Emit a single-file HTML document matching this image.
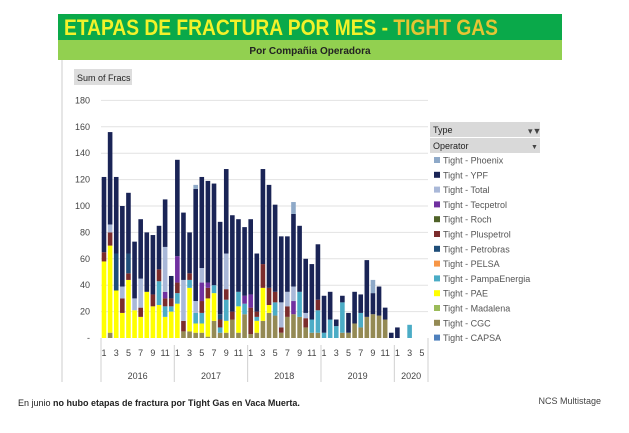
<!DOCTYPE html>
<html><head><meta charset="utf-8"><style>
body{margin:0;background:#fff;width:629px;height:433px;overflow:hidden;font-family:"Liberation Sans",sans-serif}
</style></head><body>
<svg width="629" height="433" viewBox="0 0 629 433" style="position:absolute;left:0;top:0">
<rect x="58" y="14" width="504" height="26" fill="#0aa94a"/>
<text x="64" y="35" font-size="22" font-weight="bold" fill="#f2f22a" font-family="Liberation Sans Narrow, Liberation Sans, sans-serif" textLength="434" lengthAdjust="spacingAndGlyphs">ETAPAS DE FRACTURA POR MES - <tspan fill="#e5c533">TIGHT GAS</tspan></text>
<rect x="58" y="40" width="504" height="20" fill="#92d050"/>
<text x="310" y="54" font-size="10" font-weight="bold" text-anchor="middle" fill="#222">Por Compañia Operadora</text>
<line x1="62" y1="60" x2="62" y2="382" stroke="#ccc"/>
<rect x="74" y="69" width="58" height="16" fill="#ddd"/>
<text x="77" y="81" font-size="9" fill="#222">Sum of Fracs</text>
<g id="plot"></g>
<g>
<rect x="430" y="122" width="110" height="15" fill="#d9d9d9"/>
<text x="433" y="133" font-size="9" fill="#222">Type</text>
<text x="528" y="134" font-size="9" fill="#444">▾▼</text>
<rect x="430" y="138" width="110" height="15" fill="#d9d9d9"/>
<text x="433" y="149" font-size="9" fill="#222">Operator</text>
<text x="531" y="149" font-size="7" fill="#444">▼</text>
<g id="leg"></g>
</g>
<text x="18" y="406" font-size="9" fill="#222">En junio <tspan font-weight="bold">no hubo etapas de fractura por Tight Gas en Vaca Muerta.</tspan></text>
<text x="601" y="404" font-size="9" fill="#444" text-anchor="end">NCS Multistage</text>
</svg>
<script>
const years=['2016','2017','2018','2019','2020'];
const monthsPerYear=[12,12,12,12,5];
const yTicks=[0,20,40,60,80,100,120,140,160,180];
const seriesNames=['Tight - CGC','Tight - PAE','Tight - PampaEnergia','Tight - Pluspetrol','Tight - Petrobras','Tight - Tecpetrol','Tight - Total','Tight - YPF','Tight - Phoenix'];
const seriesColors=['#948a54','#ffff00','#4bacc6','#7b2c2c','#1f4e79','#7030a0','#a9b8d8','#1a2456','#8ea9c8'];
const cgc=[0,4,0,0,0,0,0,0,0,0,0,0, 0,5,5,4,4,1,13,4,4,14,4,18, 3,4,13,19,17,4,16,18,16,8,4,4, 0,0,0,4,4,11,8,16,18,17,14,0, 0,0,0,0,0];
const pae=[58,66,36,19,44,21,16,35,24,25,16,20, 26,0,33,7,7,29,21,0,9,0,20,0, 0,9,25,6,0,0,0,0,0,0,0,0, 0,0,0,0,0,0,0,0,0,0,0,0, 0,0,0,0,0];
const pampa=[0,0,0,0,0,0,0,0,0,18,8,4, 8,0,6,8,8,0,6,4,16,0,11,8, 0,3,0,0,10,0,0,0,19,0,10,17, 4,14,9,23,0,0,11,0,0,0,0,0, 0,0,10,0,0];
const plus=[7,10,0,11,5,0,7,0,9,9,6,6, 8,8,5,0,9,8,0,6,8,6,0,0, 20,4,18,13,8,4,8,0,0,7,0,8, 0,0,0,0,0,0,0,0,0,0,0,0, 0,0,0,0,0];
const petro=[0,0,28,0,15,0,0,0,0,0,0,0, 0,0,0,0,0,0,0,4,0,0,0,0, 0,0,0,0,0,0,0,0,0,0,0,0, 0,0,0,0,0,0,0,0,0,0,0,0, 0,0,0,0,0];
const tec=[0,0,0,0,0,0,0,0,0,0,5,0, 20,0,0,0,14,4,0,0,0,0,0,6, 10,0,0,0,0,0,0,10,0,0,0,0, 0,0,0,0,0,0,0,0,0,0,0,0, 0,0,0,0,0];
const total=[0,6,0,9,0,9,22,0,0,0,34,0, 0,31,0,9,11,0,0,0,27,0,0,0, 0,0,0,0,0,19,11,11,0,4,0,0, 0,0,0,0,0,0,0,0,0,0,0,0, 0,0,0,0,0];
const ypf=[57,70,58,61,46,43,45,45,45,33,36,17, 73,51,31,85,69,77,77,70,64,73,55,52, 57,44,72,78,66,50,42,55,50,41,42,42, 28,21,5,5,15,24,14,43,16,22,9,4, 8,0,0,0,0];
const phoenix=[0,0,0,0,0,0,0,0,0,0,0,0, 0,0,0,3,0,0,0,0,0,0,0,0, 0,0,0,0,0,0,0,9,0,0,0,0, 0,0,0,0,0,0,0,0,10,0,0,0, 0,0,0,0,0];
const series=[cgc,pae,pampa,plus,petro,tec,total,ypf,phoenix];
const legendNames=['Tight - Phoenix','Tight - YPF','Tight - Total','Tight - Tecpetrol','Tight - Roch','Tight - Pluspetrol','Tight - Petrobras','Tight - PELSA','Tight - PampaEnergia','Tight - PAE','Tight - Madalena','Tight - CGC','Tight - CAPSA'];
const legendColors=['#8ea9c8','#1a2456','#a9b8d8','#7030a0','#4f6228','#7b2c2c','#1f4e79','#f79646','#4bacc6','#ffff00','#9bbb59','#948a54','#4f81bd'];

const NS='http://www.w3.org/2000/svg';
const plot=document.getElementById('plot');
const x0=101,x1=428,yBase=338,pxPer=1.32;
const y=v=>yBase-v*pxPer;
const n=ypf.length;
const step=(x1-x0)/(n+0.5);
const xc=i=>x0+3+i*step;
function mk(t,a){const e=document.createElementNS(NS,t);for(const k in a)e.setAttribute(k,a[k]);return e;}
yTicks.forEach(t=>{
  if(t>0){const l=mk('line',{x1:x0,x2:x1,y1:y(t),y2:y(t),stroke:'#e2e2e2'});
  
  
  plot.appendChild(l);}
  const tx=mk('text',{x:90,y:y(t)+3,'font-size':9,'text-anchor':'end',fill:'#444'});
  tx.textContent=t===0?'-':String(t);
  
  
  plot.appendChild(tx);
});
for(let i=0;i<n;i++){
  let acc=0;
  series.forEach((s,k)=>{
    const v=s[i];if(!v)return;
    const r=mk('rect',{x:xc(i)-2.3,width:4.6,y:y(acc+v),height:v*pxPer,fill:seriesColors[k]});
    
    
    plot.appendChild(r);acc+=v;
  });
}
let idx=0;
const divs=[x0];
years.forEach((yr,j)=>{
  const start=idx;
  for(let m=1;m<=monthsPerYear[j];m++,idx++){
    if(m%2===1){const t=mk('text',{x:xc(idx),y:356,'font-size':9,'text-anchor':'middle',fill:'#444'});
    t.textContent=m;
    
    
    plot.appendChild(t);}
  }
  const xe=j===years.length-1?x1:xc(idx)-step/2;
  const xs=divs[divs.length-1];
  divs.push(xe);
  const yl=mk('text',{x:(xs+xe)/2,y:379,'font-size':9,'text-anchor':'middle',fill:'#444'});
  yl.textContent=yr;
  
  
  plot.appendChild(yl);
});
divs.forEach((d,k)=>{
  const l=mk('line',{x1:d,x2:d,y1:k===0||k===divs.length-1?338:345,y2:382,stroke:'#d0d0d0'});
  
  
  plot.appendChild(l);
});
const leg=document.getElementById('leg');
legendNames.forEach((nm,k)=>{
  const yy=163+k*14.8;
  const r=mk('rect',{x:434,y:yy-6,width:6,height:6,fill:legendColors[k]});
  
  
  leg.appendChild(r);
  const t=mk('text',{x:443,y:yy+0.5,'font-size':9,fill:'#555'});
  t.textContent=nm;
  
  
  leg.appendChild(t);
});
</script>
</body></html>
